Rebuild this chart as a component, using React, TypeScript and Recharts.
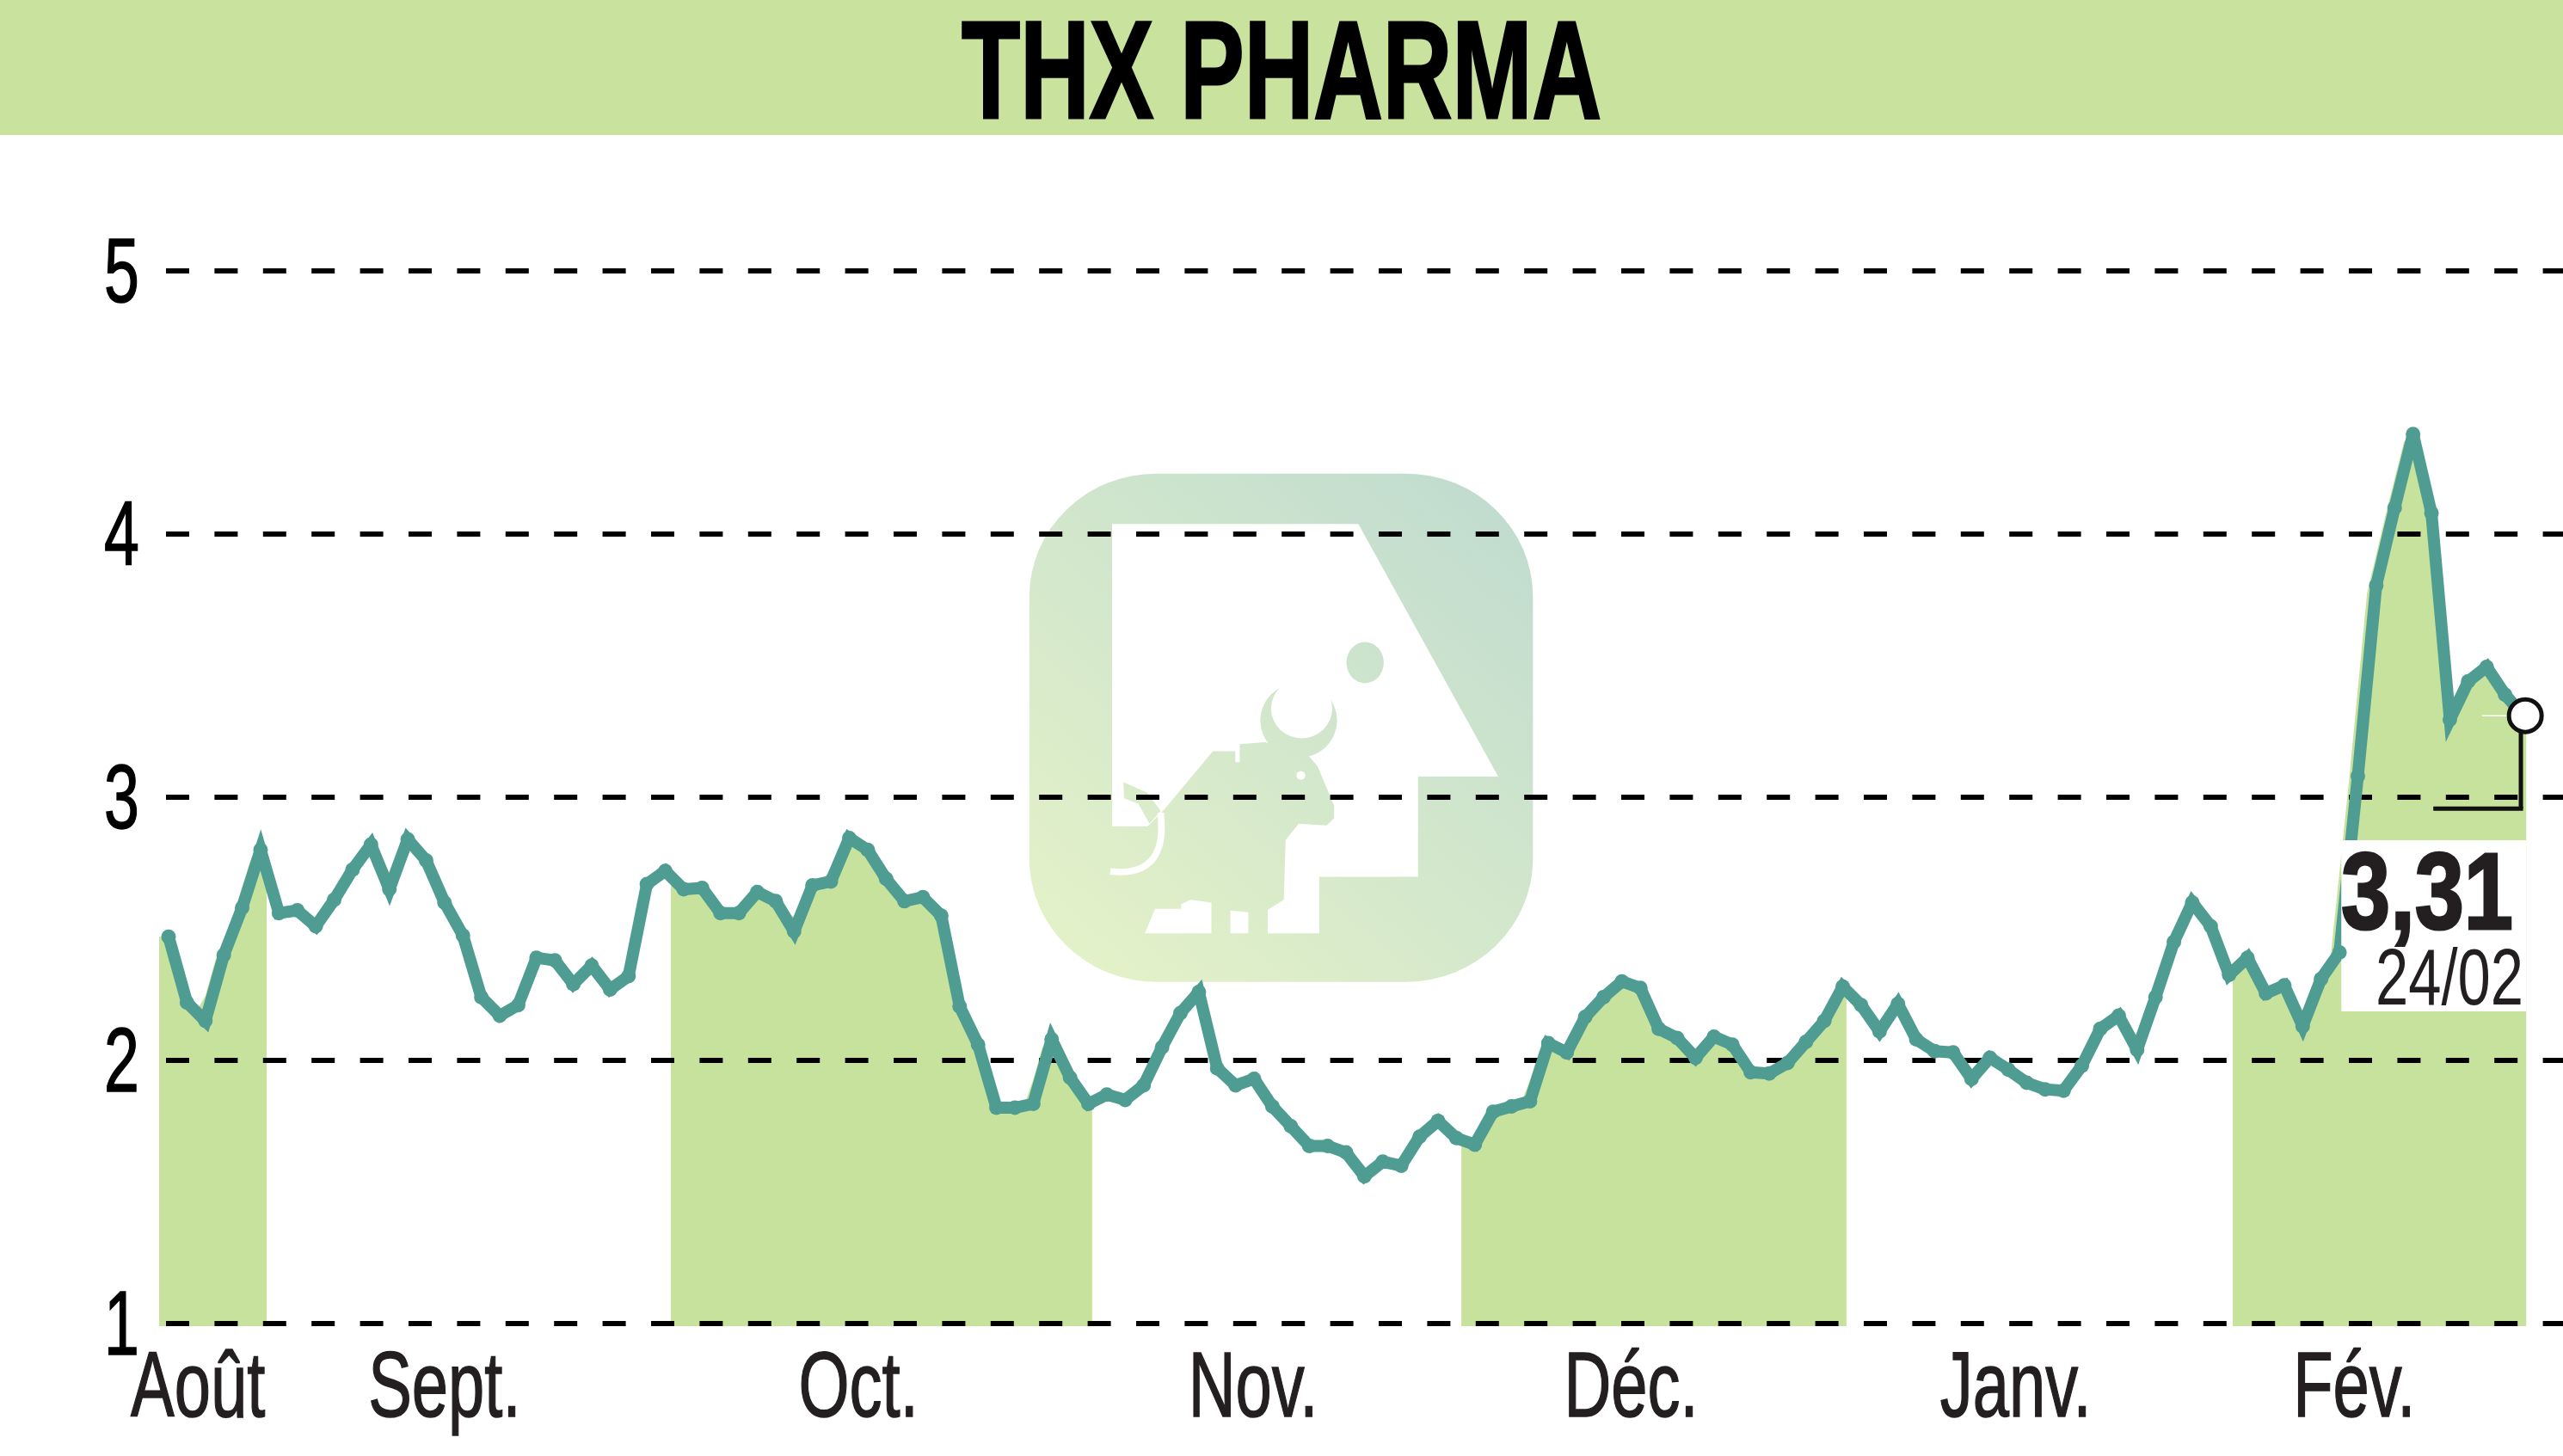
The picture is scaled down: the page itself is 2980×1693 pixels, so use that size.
import {
  Area,
  CartesianGrid,
  ComposedChart,
  Label,
  Line,
  ReferenceArea,
  ReferenceDot,
  ReferenceLine,
  XAxis,
  YAxis,
} from "recharts";

const monthNames = ["Août", "Sept.", "Oct.", "Nov.", "Déc.", "Janv.", "Fév."];
const monthTicks = [1.6, 15, 37.5, 58.95, 79.5, 100.4, 118.8];
const priceTicks = [1, 2, 3, 4, 5];

// month shading, in sessions along the x axis
const bandStarts = [-0.514, 27.3, 70.27, 112.2];
const bandEnds = [5.33, 50.2, 91.2, 128.15];

const prices = [
  2.47, 2.22, 2.15, 2.4, 2.58, 2.8, 2.56, 2.57, 2.51, 2.61, 2.725, 2.82, 2.65,
  2.84, 2.76, 2.6, 2.475, 2.24, 2.17, 2.21, 2.39, 2.38, 2.29, 2.36, 2.27, 2.32,
  2.67, 2.72, 2.65, 2.655, 2.56, 2.56, 2.64, 2.605, 2.49, 2.665, 2.68, 2.845,
  2.8, 2.69, 2.605, 2.62, 2.55, 2.205, 2.06, 1.82, 1.82, 1.835, 2.08, 1.935,
  1.835, 1.87, 1.85, 1.905, 2.05, 2.18, 2.26, 1.97, 1.905, 1.93, 1.825, 1.75,
  1.675, 1.675, 1.65, 1.56, 1.615, 1.6, 1.71, 1.77, 1.705, 1.68, 1.805, 1.825,
  1.845, 2.065, 2.03, 2.165, 2.24, 2.3, 2.275, 2.12, 2.085, 2.01, 2.09, 2.06,
  1.955, 1.95, 1.99, 2.07, 2.15, 2.28, 2.21, 2.11, 2.215, 2.08, 2.035, 2.03,
  1.93, 2.01, 1.965, 1.915, 1.89, 1.885, 1.98, 2.12, 2.17, 2.04, 2.24, 2.45,
  2.6, 2.51, 2.325, 2.39, 2.255, 2.285, 2.13, 2.31, 2.41, 3.08, 3.805, 4.1,
  4.38, 4.08, 3.295, 3.44, 3.495, 3.39, 3.31,
];

const GREEN = "#c7e29c";
const TEAL = "#4f9d92";
const INK = "#231f20";
const NARROW = '"Liberation Sans Narrow", "Liberation Sans", sans-serif';

const rows = prices.map((price, x) => ({ x, price }));
const lastIndex = prices.length - 1;

function priceAt(x: number) {
  const c = Math.max(0, Math.min(lastIndex, x));
  const i = Math.min(lastIndex - 1, Math.floor(c));
  return prices[i] + (prices[i + 1] - prices[i]) * (c - i);
}

// the fill bleeds half a session left of the line, so take the higher of the
// shifted price and the line itself
function fillAt(x: number) {
  return Math.max(priceAt(x + 0.5) - 0.03, priceAt(x));
}

function bandRows(start: number, end: number) {
  const out = [{ x: start, band: fillAt(start) }];
  for (let h = 0; h <= lastIndex * 2 + 1; h++) {
    const x = h / 2 - 0.5;
    if (x > start && x < end) out.push({ x, band: fillAt(x) });
  }
  out.push({ x: end, band: fillAt(end) });
  return out;
}

function MonthTick({ x, y, payload }: any) {
  const label = monthNames[monthTicks.indexOf(payload.value)];
  return (
    <text
      transform={`translate(${x},${y + 100}) scale(0.71,1)`}
      textAnchor="middle"
      fontFamily={NARROW}
      fontSize={107}
      fill={INK}
      stroke={INK}
      strokeWidth={1.5}
    >
      {label}
    </text>
  );
}

function PriceTick({ y, payload }: any) {
  return (
    <text
      transform={`translate(162,${y + 36}) scale(0.7,1)`}
      textAnchor="end"
      fontFamily={NARROW}
      fontSize={105}
      fill="#000"
      stroke="#000"
      strokeWidth={1.5}
    >
      {payload.value}
    </text>
  );
}

function LastQuote() {
  return (
    <g>
      <text
        x={2722}
        y={1080}
        fontFamily={NARROW}
        fontWeight="bold"
        fontSize={126}
        textLength={200}
        lengthAdjust="spacingAndGlyphs"
        fill={INK}
        stroke={INK}
        strokeWidth={3}
      >
        3,31
      </text>
      <text
        x={2762}
        y={1168}
        fontFamily={NARROW}
        fontSize={92}
        textLength={172}
        lengthAdjust="spacingAndGlyphs"
        fill={INK}
      >
        24/02
      </text>
    </g>
  );
}

function PriceDot({ cx, cy, index }: any) {
  if (index === lastIndex) return <g key={index} />;
  return <circle key={index} cx={cx} cy={cy} r={8.5} fill={TEAL} />;
}

// faded logo behind the plot, drawn in its own 1568-wide sketch space
function Logo() {
  return (
    <g transform="translate(1150,520) scale(0.4337,0.4209)">
      <defs>
        <linearGradient
          id="logoFill"
          gradientUnits="userSpaceOnUse"
          x1="250"
          y1="1400"
          x2="1350"
          y2="150"
        >
          <stop offset="0%" stopColor="#e3f1c8" />
          <stop offset="100%" stopColor="#c1dccf" />
        </linearGradient>
      </defs>
      <rect x={108} y={73} width={1350} height={1404} rx={340} ry={340} fill="url(#logoFill)" />
      <polygon
        points="330,212 990,212 1365,910 1150,910 1150,1187 885,1187 885,1343 415,1343 330,1048"
        fill="#fff"
      />
      <path
        d="M470,1000 L600,840 L660,840 L660,870 L672,870 L672,820 L740,815 L850,845 L880,880 L925,990 L925,1025 L905,1045 L830,1040 L795,1085 L790,1250 L747,1278 L747,1350 L695,1350 L695,1285 L647,1280 L647,1350 L596,1350 L596,1258 L540,1250 L515,1262 L515,1275 L445,1275 L415,1350 L300,1350 L330,1048 L425,1048 Z"
        fill="url(#logoFill)"
      />
      <circle cx={830} cy={755} r={103} fill="url(#logoFill)" />
      <circle cx={838} cy={722} r={82} fill="#fff" />
      <ellipse cx={1008} cy={595} rx={50} ry={57} fill="url(#logoFill)" />
      <circle cx={836} cy={907} r={12} fill="#fff" />
      <path d="M360,925 L425,955 L460,1005 L430,1040 L400,985 L362,970 Z" fill="url(#logoFill)" />
      <path d="M325,1172 Q480,1190 460,1010" fill="none" stroke="#fff" strokeWidth={18} />
    </g>
  );
}

export default function App() {
  return (
    <div style={{ position: "absolute", left: 0, top: 0, width: 2980, height: 1693, background: "#fff" }}>
      <ComposedChart
        width={2980}
        height={1693}
        data={rows}
        margin={{ top: 315, right: 0, bottom: 0, left: 0 }}
      >
        <rect x={0} y={0} width={2980} height={157} fill="#c9e29e" />
        <text
          x={1490}
          y={137}
          textAnchor="middle"
          fontFamily={NARROW}
          fontWeight="bold"
          fontSize={162}
          textLength={744}
          lengthAdjust="spacingAndGlyphs"
          fill="#000"
          stroke="#000"
          strokeWidth={3}
        >
          THX PHARMA
        </text>
        <Logo />
        <XAxis
          dataKey="x"
          type="number"
          domain={[-0.514, 130.15]}
          ticks={monthTicks}
          interval={0}
          height={154}
          axisLine={false}
          tickLine={false}
          tick={<MonthTick />}
        />
        <YAxis
          type="number"
          domain={[1, 5]}
          ticks={priceTicks}
          width={185}
          axisLine={false}
          tickLine={false}
          tick={<PriceTick />}
        />
        {bandStarts.map((start, i) => (
          <Area
            key={start}
            data={bandRows(start, bandEnds[i])}
            dataKey="band"
            type="linear"
            baseValue={0.99}
            fill={GREEN}
            fillOpacity={1}
            stroke="none"
            dot={false}
            activeDot={false}
            isAnimationActive={false}
          />
        ))}
        <CartesianGrid
          vertical={false}
          stroke="#000"
          strokeWidth={6}
          strokeDasharray="27 29.4"
          strokeDashoffset={48.4}
          zIndex={150}
        />
        <Line
          dataKey="price"
          type="linear"
          stroke={TEAL}
          strokeWidth={14}
          strokeLinejoin="miter"
          dot={<PriceDot />}
          activeDot={false}
          isAnimationActive={false}
        />
        <ReferenceArea x1={118.1} x2={128.15} y1={2.186} y2={2.837} fill="#fff" fillOpacity={1} stroke="none" zIndex={450}>
          <Label content={<LastQuote />} />
        </ReferenceArea>
        <ReferenceLine
          segment={[{ x: 125.75, y: 3.31 }, { x: 127.9, y: 3.31 }]}
          stroke="#fff"
          strokeWidth={1.5}
          zIndex={460}
        />
        <ReferenceLine
          segment={[{ x: 127.86, y: 3.31 }, { x: 127.86, y: 2.957 }]}
          stroke="#111"
          strokeWidth={5}
          zIndex={460}
        />
        <ReferenceLine
          segment={[{ x: 127.98, y: 2.957 }, { x: 123.1, y: 2.957 }]}
          stroke="#111"
          strokeWidth={5}
          zIndex={460}
        />
        <ReferenceDot x={128.1} y={3.31} r={19} fill="#fff" stroke="#111" strokeWidth={5} zIndex={1300} />
      </ComposedChart>
    </div>
  );
}
